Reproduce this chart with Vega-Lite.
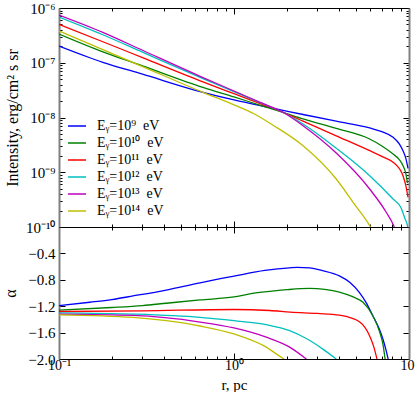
{
  "$schema": "https://vega.github.io/schema/vega-lite/v6.json",
  "background": "white",
  "padding": {"left": 2, "top": 1, "right": 0, "bottom": 0},
  "spacing": 0,
  "bounds": "flush",
  "config": {
    "font": "Liberation Serif",
    "view": {"stroke": null},
    "axis": {
      "labelFont": "Liberation Serif", "labelFontSize": 15, "labelColor": "black",
      "titleFont": "Liberation Serif", "titleFontSize": 16, "titleFontWeight": "normal", "titleColor": "black",
      "domainColor": "black", "tickColor": "black", "grid": false,
      "labelFlush": false, "labelOverlap": false, "labelBound": false
    },
    "legend": {
      "labelFont": "Liberation Serif", "labelFontSize": 14, "labelColor": "black"
    }
  },
  "datasets": {
    "intensity": [
      {"E": "b", "r": 0.1, "I": 2.02e-7}, {"E": "b", "r": 0.178, "I": 1.02e-7}, {"E": "b", "r": 0.3, "I": 6.19e-8},
      {"E": "b", "r": 0.665, "I": 2.88e-8}, {"E": "b", "r": 1.0, "I": 2.09e-8}, {"E": "b", "r": 1.5, "I": 1.58e-8},
      {"E": "b", "r": 1.905, "I": 1.35e-8}, {"E": "b", "r": 2.48, "I": 1.135e-8}, {"E": "b", "r": 3.84, "I": 8.55e-9},
      {"E": "b", "r": 5.96, "I": 6.46e-9}, {"E": "b", "r": 7.0, "I": 5.5e-9}, {"E": "b", "r": 8.11, "I": 4.35e-9},
      {"E": "b", "r": 8.8, "I": 3.31e-9}, {"E": "b", "r": 9.24, "I": 2.48e-9}, {"E": "b", "r": 9.6, "I": 1.78e-9},
      {"E": "b", "r": 9.87, "I": 1.18e-9},

      {"E": "g", "r": 0.1, "I": 3.35e-7}, {"E": "g", "r": 0.178, "I": 1.585e-7}, {"E": "g", "r": 0.3, "I": 8.77e-8},
      {"E": "g", "r": 0.665, "I": 3.55e-8}, {"E": "g", "r": 1.0, "I": 2.37e-8}, {"E": "g", "r": 1.4, "I": 1.69e-8},
      {"E": "g", "r": 1.905, "I": 1.245e-8}, {"E": "g", "r": 2.48, "I": 9.44e-9}, {"E": "g", "r": 3.84, "I": 6.31e-9},
      {"E": "g", "r": 5.96, "I": 4.05e-9}, {"E": "g", "r": 7.0, "I": 3.02e-9}, {"E": "g", "r": 8.11, "I": 2.15e-9},
      {"E": "g", "r": 8.8, "I": 1.7e-9}, {"E": "g", "r": 9.24, "I": 1.32e-9}, {"E": "g", "r": 9.6, "I": 9.33e-10},
      {"E": "g", "r": 9.8, "I": 6.31e-10},

      {"E": "r", "r": 0.1, "I": 5.01e-7}, {"E": "r", "r": 0.178, "I": 2.42e-7}, {"E": "r", "r": 0.3, "I": 1.24e-7},
      {"E": "r", "r": 0.665, "I": 4.47e-8}, {"E": "r", "r": 1.0, "I": 2.72e-8}, {"E": "r", "r": 1.4, "I": 1.81e-8},
      {"E": "r", "r": 1.905, "I": 1.245e-8}, {"E": "r", "r": 2.48, "I": 8.59e-9}, {"E": "r", "r": 3.84, "I": 4.63e-9},
      {"E": "r", "r": 5.96, "I": 2.48e-9}, {"E": "r", "r": 7.0, "I": 1.95e-9}, {"E": "r", "r": 8.11, "I": 1.52e-9},
      {"E": "r", "r": 8.8, "I": 1.17e-9}, {"E": "r", "r": 9.24, "I": 8.65e-10}, {"E": "r", "r": 9.6, "I": 5.62e-10},
      {"E": "r", "r": 9.87, "I": 3.49e-10},

      {"E": "c", "r": 0.1, "I": 6.85e-7}, {"E": "c", "r": 0.178, "I": 3.25e-7}, {"E": "c", "r": 0.3, "I": 1.56e-7},
      {"E": "c", "r": 0.665, "I": 5.13e-8}, {"E": "c", "r": 1.0, "I": 2.96e-8}, {"E": "c", "r": 1.4, "I": 1.88e-8},
      {"E": "c", "r": 1.905, "I": 1.245e-8}, {"E": "c", "r": 2.48, "I": 7.59e-9}, {"E": "c", "r": 3.84, "I": 2.75e-9},
      {"E": "c", "r": 5.96, "I": 8.65e-10}, {"E": "c", "r": 8.11, "I": 3.24e-10}, {"E": "c", "r": 9.0, "I": 2.24e-10},
      {"E": "c", "r": 9.5, "I": 1.4e-10}, {"E": "c", "r": 9.8, "I": 1.06e-10}, {"E": "c", "r": 9.85, "I": 8.9e-11},

      {"E": "m", "r": 0.1, "I": 7.45e-7}, {"E": "m", "r": 0.178, "I": 3.6e-7}, {"E": "m", "r": 0.3, "I": 1.69e-7},
      {"E": "m", "r": 0.665, "I": 5.37e-8}, {"E": "m", "r": 1.0, "I": 3.05e-8}, {"E": "m", "r": 1.4, "I": 1.91e-8},
      {"E": "m", "r": 1.905, "I": 1.245e-8}, {"E": "m", "r": 2.48, "I": 7.08e-9}, {"E": "m", "r": 3.84, "I": 2.24e-9},
      {"E": "m", "r": 5.96, "I": 4.94e-10}, {"E": "m", "r": 7.41, "I": 1.86e-10}, {"E": "m", "r": 8.17, "I": 1.06e-10},
      {"E": "m", "r": 8.3, "I": 9.3e-11},

      {"E": "y", "r": 0.1, "I": 3.8e-7}, {"E": "y", "r": 0.178, "I": 1.74e-7}, {"E": "y", "r": 0.3, "I": 8.53e-8},
      {"E": "y", "r": 0.665, "I": 2.88e-8}, {"E": "y", "r": 1.0, "I": 1.7e-8}, {"E": "y", "r": 1.3, "I": 1.17e-8},
      {"E": "y", "r": 1.67, "I": 7.24e-9}, {"E": "y", "r": 2.48, "I": 3.05e-9}, {"E": "y", "r": 3.84, "I": 7.53e-10},
      {"E": "y", "r": 4.79, "I": 2.82e-10}, {"E": "y", "r": 5.96, "I": 1.06e-10}, {"E": "y", "r": 6.1, "I": 9.3e-11}
    ],
    "alpha": [
      {"E": "b", "r": 0.1, "a": -1.19}, {"E": "b", "r": 0.15, "a": -1.14}, {"E": "b", "r": 0.2, "a": -1.1},
      {"E": "b", "r": 0.265, "a": -1.045}, {"E": "b", "r": 0.41, "a": -0.955}, {"E": "b", "r": 0.64, "a": -0.845},
      {"E": "b", "r": 1.0, "a": -0.745}, {"E": "b", "r": 1.5, "a": -0.658}, {"E": "b", "r": 2.08, "a": -0.618},
      {"E": "b", "r": 2.3, "a": -0.612}, {"E": "b", "r": 2.7, "a": -0.62}, {"E": "b", "r": 3.2, "a": -0.66},
      {"E": "b", "r": 4.0, "a": -0.74}, {"E": "b", "r": 4.6, "a": -0.84}, {"E": "b", "r": 5.2, "a": -0.99},
      {"E": "b", "r": 5.7, "a": -1.15}, {"E": "b", "r": 6.2, "a": -1.34}, {"E": "b", "r": 6.7, "a": -1.52},
      {"E": "b", "r": 7.1, "a": -1.7}, {"E": "b", "r": 7.4, "a": -1.87}, {"E": "b", "r": 7.6, "a": -2.0},

      {"E": "g", "r": 0.1, "a": -1.26}, {"E": "g", "r": 0.2, "a": -1.22}, {"E": "g", "r": 0.3, "a": -1.19},
      {"E": "g", "r": 0.41, "a": -1.155}, {"E": "g", "r": 0.64, "a": -1.105}, {"E": "g", "r": 1.0, "a": -1.06},
      {"E": "g", "r": 1.25, "a": -1.01}, {"E": "g", "r": 1.6, "a": -0.975}, {"E": "g", "r": 2.0, "a": -0.95},
      {"E": "g", "r": 2.7, "a": -0.93}, {"E": "g", "r": 3.3, "a": -0.945}, {"E": "g", "r": 4.0, "a": -0.985},
      {"E": "g", "r": 4.8, "a": -1.06}, {"E": "g", "r": 5.46, "a": -1.14}, {"E": "g", "r": 6.2, "a": -1.34},
      {"E": "g", "r": 6.8, "a": -1.59}, {"E": "g", "r": 7.1, "a": -1.78}, {"E": "g", "r": 7.3, "a": -2.0},

      {"E": "r", "r": 0.1, "a": -1.28}, {"E": "r", "r": 0.3, "a": -1.27}, {"E": "r", "r": 1.0, "a": -1.25},
      {"E": "r", "r": 1.6, "a": -1.265}, {"E": "r", "r": 2.1, "a": -1.29}, {"E": "r", "r": 3.0, "a": -1.31},
      {"E": "r", "r": 4.0, "a": -1.335}, {"E": "r", "r": 4.7, "a": -1.38}, {"E": "r", "r": 5.23, "a": -1.44},
      {"E": "r", "r": 5.6, "a": -1.52}, {"E": "r", "r": 5.96, "a": -1.65}, {"E": "r", "r": 6.3, "a": -1.82},
      {"E": "r", "r": 6.56, "a": -2.0},

      {"E": "c", "r": 0.1, "a": -1.3}, {"E": "c", "r": 0.265, "a": -1.32}, {"E": "c", "r": 0.64, "a": -1.37},
      {"E": "c", "r": 1.0, "a": -1.42}, {"E": "c", "r": 1.53, "a": -1.48}, {"E": "c", "r": 2.08, "a": -1.57},
      {"E": "c", "r": 2.59, "a": -1.69}, {"E": "c", "r": 3.22, "a": -1.85}, {"E": "c", "r": 3.84, "a": -2.0},

      {"E": "m", "r": 0.1, "a": -1.32}, {"E": "m", "r": 0.265, "a": -1.34}, {"E": "m", "r": 0.64, "a": -1.44},
      {"E": "m", "r": 1.0, "a": -1.53}, {"E": "m", "r": 1.53, "a": -1.67}, {"E": "m", "r": 2.08, "a": -1.82},
      {"E": "m", "r": 2.59, "a": -2.0},

      {"E": "y", "r": 0.1, "a": -1.33}, {"E": "y", "r": 0.265, "a": -1.37}, {"E": "y", "r": 0.41, "a": -1.42},
      {"E": "y", "r": 0.64, "a": -1.5}, {"E": "y", "r": 1.0, "a": -1.62}, {"E": "y", "r": 1.53, "a": -1.82},
      {"E": "y", "r": 1.83, "a": -1.96}, {"E": "y", "r": 1.93, "a": -2.0}
    ]
  },
  "vconcat": [
    {
      "width": 350,
      "height": 219,
      "resolve": {"axis": {"x": "independent", "y": "independent"}},
      "layer": [
        {
          "data": {"name": "intensity"},
          "mark": {"type": "line", "strokeWidth": 1.3, "clip": true, "interpolate": "monotone"},
          "encoding": {
            "x": {
              "field": "r", "type": "quantitative",
              "scale": {"type": "log", "domain": [0.1, 10], "nice": false},
              "axis": {
                "orient": "bottom", "title": null, "labels": false,
                "values": [0.1,0.2,0.3,0.4,0.5,0.6,0.7,0.8,0.9,1,2,3,4,5,6,7,8,9,10],
                "tickSize": {"condition": {"test": "abs(log(datum.value)/LN10 - round(log(datum.value)/LN10)) < 0.001", "value": -6}, "value": -3}
              }
            },
            "y": {
              "field": "I", "type": "quantitative",
              "scale": {"type": "log", "domain": [1e-10, 1e-6], "nice": false},
              "axis": {
                "orient": "left", "title": "Intensity,  erg/cm² s sr", "titlePadding": 5,
                "domainColor": "#808080", "domainWidth": 2,
                "values": [1e-10,2e-10,3e-10,4e-10,5e-10,6e-10,7e-10,8e-10,9e-10,1e-9,2e-9,3e-9,4e-9,5e-9,6e-9,7e-9,8e-9,9e-9,1e-8,2e-8,3e-8,4e-8,5e-8,6e-8,7e-8,8e-8,9e-8,1e-7,2e-7,3e-7,4e-7,5e-7,6e-7,7e-7,8e-7,9e-7,1e-6],
                "labelExpr": "abs(log(datum.value)/LN10 - round(log(datum.value)/LN10)) > 0.001 ? '' : (round(log(datum.value)/LN10) == -6 ? '10⁻⁶' : round(log(datum.value)/LN10) == -7 ? '10⁻⁷' : round(log(datum.value)/LN10) == -8 ? '10⁻⁸' : round(log(datum.value)/LN10) == -9 ? '10⁻⁹' : '10⁻¹⁰')",
                "labelPadding": 10,
                "tickSize": {"condition": {"test": "abs(log(datum.value)/LN10 - round(log(datum.value)/LN10)) < 0.001", "value": -6}, "value": -3}
              }
            },
            "color": {
              "field": "E", "type": "nominal",
              "scale": {"domain": ["b", "g", "r", "c", "m", "y"], "range": ["#0000ff", "#008000", "#ff0000", "#00bfbf", "#bf00bf", "#bfbf00"]},
              "legend": {
                "title": null, "orient": "none", "legendX": 8, "legendY": 108,
                "symbolType": "stroke", "symbolStrokeWidth": 1.5, "symbolSize": 324,
                "labelOffset": 10, "rowPadding": 0, "padding": 0,
                "labelExpr": "datum.value == 'b' ? 'Eᵧ=10⁹\u00a0 eV' : datum.value == 'g' ? 'Eᵧ=10¹⁰\u00a0 eV' : datum.value == 'r' ? 'Eᵧ=10¹¹\u00a0 eV' : datum.value == 'c' ? 'Eᵧ=10¹²\u00a0 eV' : datum.value == 'm' ? 'Eᵧ=10¹³\u00a0 eV' : 'Eᵧ=10¹⁴\u00a0 eV'"
              }
            }
          }
        },
        {
          "data": {"name": "intensity"},
          "mark": {"type": "line", "opacity": 0},
          "encoding": {
            "x": {
              "field": "r", "type": "quantitative",
              "scale": {"type": "log", "domain": [0.1, 10], "nice": false},
              "axis": {
                "orient": "top", "title": null, "labels": false,
                "values": [0.1,0.2,0.3,0.4,0.5,0.6,0.7,0.8,0.9,1,2,3,4,5,6,7,8,9,10],
                "tickSize": {"condition": {"test": "abs(log(datum.value)/LN10 - round(log(datum.value)/LN10)) < 0.001", "value": -6}, "value": -3}
              }
            },
            "y": {
              "field": "I", "type": "quantitative",
              "scale": {"type": "log", "domain": [1e-10, 1e-6], "nice": false},
              "axis": {
                "orient": "right", "title": null, "labels": false,
                "domainColor": "#808080", "domainWidth": 2,
                "values": [1e-10,2e-10,3e-10,4e-10,5e-10,6e-10,7e-10,8e-10,9e-10,1e-9,2e-9,3e-9,4e-9,5e-9,6e-9,7e-9,8e-9,9e-9,1e-8,2e-8,3e-8,4e-8,5e-8,6e-8,7e-8,8e-8,9e-8,1e-7,2e-7,3e-7,4e-7,5e-7,6e-7,7e-7,8e-7,9e-7,1e-6],
                "tickSize": {"condition": {"test": "abs(log(datum.value)/LN10 - round(log(datum.value)/LN10)) < 0.001", "value": -6}, "value": -3}
              }
            }
          }
        }
      ]
    },
    {
      "width": 350,
      "height": 132,
      "resolve": {"axis": {"x": "independent", "y": "independent"}},
      "layer": [
        {
          "data": {"name": "alpha"},
          "mark": {"type": "line", "strokeWidth": 1.3, "clip": true, "interpolate": "monotone"},
          "encoding": {
            "x": {
              "field": "r", "type": "quantitative",
              "scale": {"type": "log", "domain": [0.1, 10], "nice": false},
              "axis": {
                "orient": "bottom", "title": "r,  pc", "titlePadding": 2, "titleFontSize": 15,
                "values": [0.1,0.2,0.3,0.4,0.5,0.6,0.7,0.8,0.9,1,2,3,4,5,6,7,8,9,10],
                "labelExpr": "abs(log(datum.value)/LN10 - round(log(datum.value)/LN10)) > 0.001 ? '' : (round(log(datum.value)/LN10) == -1 ? '10⁻¹' : round(log(datum.value)/LN10) == 0 ? '10⁰' : '10¹')",
                "labelPadding": 5, "labelFontSize": 14,
                "tickSize": {"condition": {"test": "abs(log(datum.value)/LN10 - round(log(datum.value)/LN10)) < 0.001", "value": -6}, "value": -3}
              }
            },
            "y": {
              "field": "a", "type": "quantitative",
              "scale": {"domain": [-2, 0], "nice": false, "zero": false},
              "axis": {
                "orient": "left", "title": "α", "titlePadding": 9,
                "domainColor": "#808080", "domainWidth": 2,
                "values": [-2, -1.6, -1.2, -0.8, -0.4, 0],
                "labelExpr": "datum.value > -0.1 ? '' : replace(format(datum.value, '.1f'), '-', '−')",
                "labelPadding": 10, "tickSize": -6
              }
            },
            "color": {
              "field": "E", "type": "nominal",
              "scale": {"domain": ["b", "g", "r", "c", "m", "y"], "range": ["#0000ff", "#008000", "#ff0000", "#00bfbf", "#bf00bf", "#bfbf00"]},
              "legend": null
            }
          }
        },
        {
          "data": {"name": "alpha"},
          "mark": {"type": "line", "opacity": 0},
          "encoding": {
            "x": {
              "field": "r", "type": "quantitative",
              "scale": {"type": "log", "domain": [0.1, 10], "nice": false},
              "axis": {
                "orient": "top", "title": null, "labels": false,
                "values": [0.1,0.2,0.3,0.4,0.5,0.6,0.7,0.8,0.9,1,2,3,4,5,6,7,8,9,10],
                "tickSize": {"condition": {"test": "abs(log(datum.value)/LN10 - round(log(datum.value)/LN10)) < 0.001", "value": -6}, "value": -3}
              }
            },
            "y": {
              "field": "a", "type": "quantitative",
              "scale": {"domain": [-2, 0], "nice": false, "zero": false},
              "axis": {
                "orient": "right", "title": null, "labels": false,
                "domainColor": "#808080", "domainWidth": 2,
                "values": [-2, -1.6, -1.2, -0.8, -0.4, 0], "tickSize": -6
              }
            }
          }
        }
      ]
    }
  ]
}
